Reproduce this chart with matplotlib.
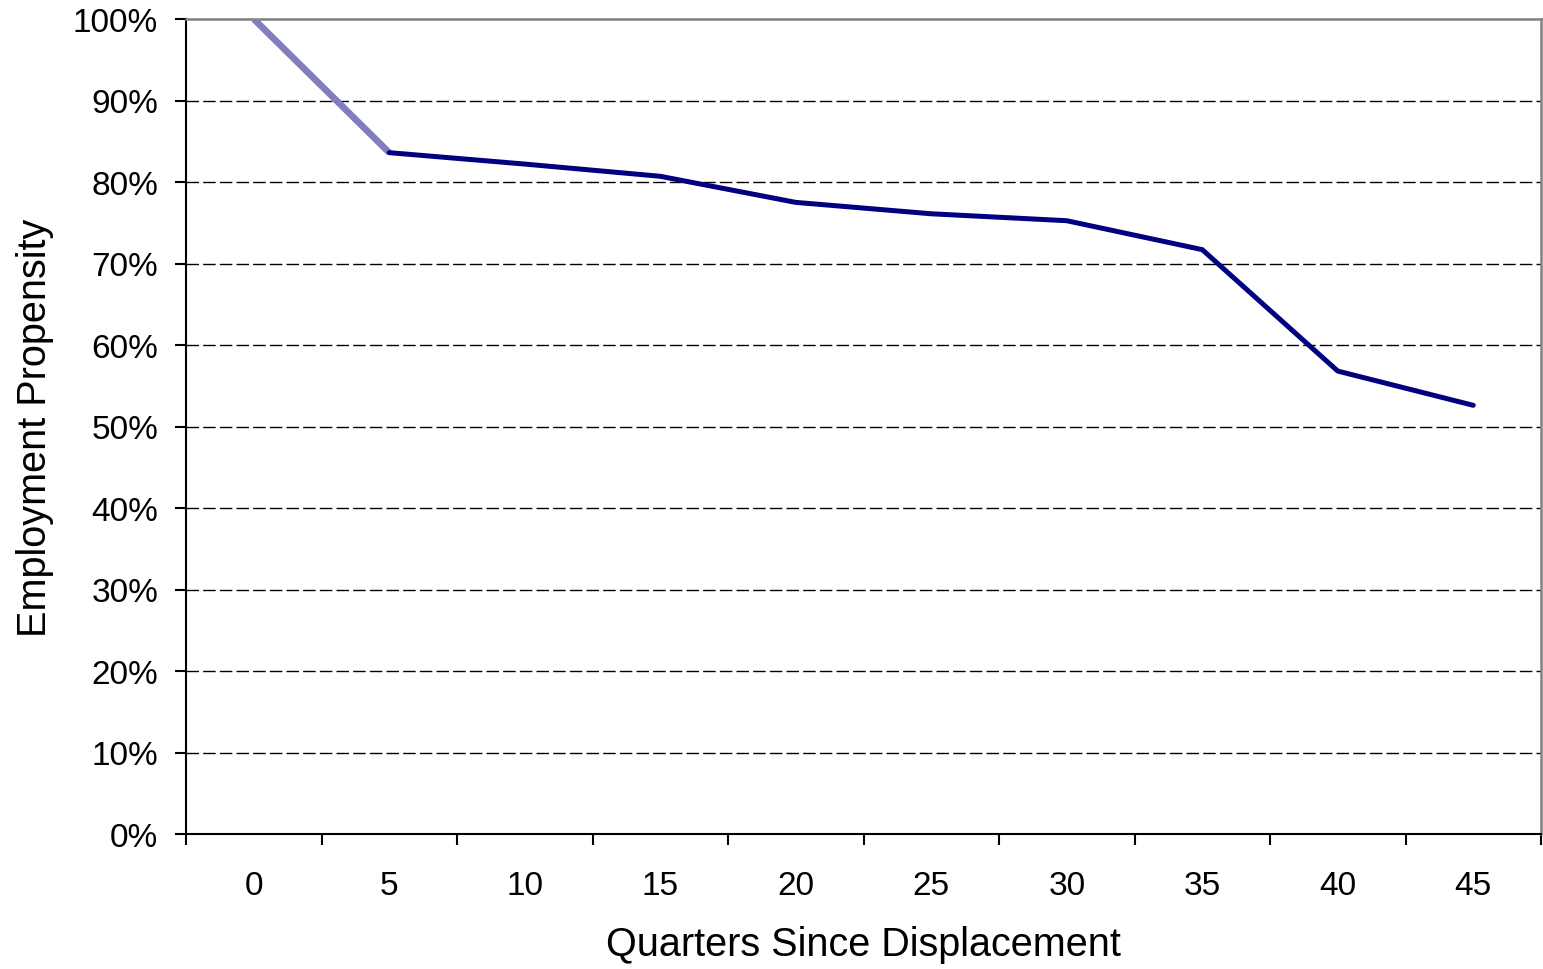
import matplotlib
matplotlib.use("Agg")
import matplotlib.pyplot as plt
from matplotlib.ticker import FixedLocator, NullFormatter, FixedFormatter

plt.rcParams['font.family'] = ['Liberation Sans', 'DejaVu Sans']

# Quarters since displacement and employment propensity (%)
quarters = [0, 5, 10, 15, 20, 25, 30, 35, 40, 45]
propensity = [100.0, 83.6, 82.2, 80.7, 77.5, 76.1, 75.25, 71.7, 56.8, 52.6]
y_ticks = [0, 10, 20, 30, 40, 50, 60, 70, 80, 90, 100]

fig = plt.figure(figsize=(15.43, 9.70), dpi=100)
ax = fig.add_axes([186 / 1543, (970 - 835) / 970, 1355 / 1543, 815 / 970])

pos = list(range(len(quarters)))

# Gridlines (dashed) at the interior y ticks
for v in y_ticks[1:-1]:
    ax.axhline(v, color='black', lw=1.0, dashes=(9, 3), zorder=1)

# First segment lighter, remainder dark navy
ax.plot(pos[:2], propensity[:2], color='#7F7FC0', lw=4.8,
        solid_capstyle='butt', zorder=3)
ax.plot(pos[1:], propensity[1:], color='#000080', lw=3.6,
        solid_capstyle='round', solid_joinstyle='round', zorder=4)

ax.set_xlim(-0.5, len(quarters) - 0.5)
ax.set_ylim(0, 100)

# Category axis: tick marks between categories, labels at centres
ax.xaxis.set_major_locator(FixedLocator([p - 0.5 for p in range(len(quarters) + 1)]))
ax.xaxis.set_major_formatter(NullFormatter())
ax.xaxis.set_minor_locator(FixedLocator(pos))
ax.xaxis.set_minor_formatter(FixedFormatter([str(q) for q in quarters]))
ax.tick_params(axis='x', which='major', direction='out', length=8, width=1.5, color='black')
ax.tick_params(axis='x', which='minor', length=0, pad=26, labelsize=24)

ax.set_yticks(y_ticks)
ax.set_yticklabels([f"{v}%" for v in y_ticks])
ax.tick_params(axis='y', direction='out', length=8, width=1.5, color='black',
               pad=12, labelsize=24)

for side in ('left', 'bottom'):
    ax.spines[side].set_color('black')
    ax.spines[side].set_linewidth(1.5)
for side in ('top', 'right'):
    ax.spines[side].set_color('#808080')
    ax.spines[side].set_linewidth(1.8)

ax.set_xlabel('Quarters Since Displacement', fontsize=28.5)
ax.xaxis.label.set_va('center')
ax.xaxis.set_label_coords(0.5, (835 - 945) / 815)

ax.set_ylabel('Employment Propensity', fontsize=28.5)
ax.yaxis.label.set_va('center')
ax.yaxis.set_label_coords((35 - 186) / 1355, 0.5)

fig.savefig('out.png', dpi=100)
